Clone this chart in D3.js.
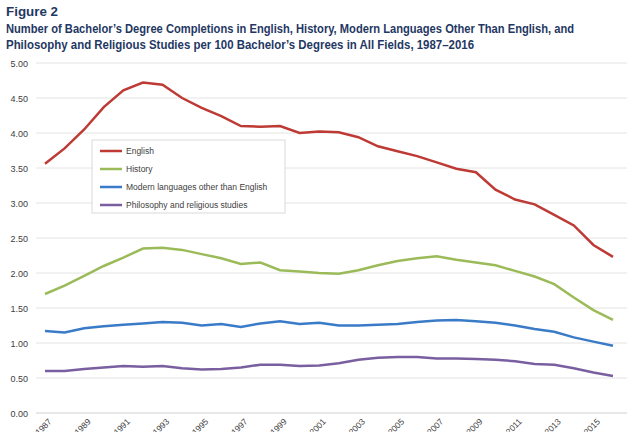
<!DOCTYPE html>
<html><head><meta charset="utf-8">
<script src="https://cdn.jsdelivr.net/npm/d3@7"></script>
<style>body{margin:0;background:#fff}</style></head>
<body><svg id="c" width="640" height="432"></svg>
<script>
const years=d3.range(1987,2017);
const english=[3.56,3.78,4.05,4.37,4.61,4.72,4.69,4.50,4.36,4.24,4.10,4.09,4.10,4.00,4.02,4.01,3.94,3.81,3.74,3.67,3.58,3.49,3.44,3.19,3.05,2.98,2.83,2.68,2.40,2.23];
const history=[1.70,1.82,1.96,2.10,2.22,2.35,2.36,2.33,2.27,2.21,2.13,2.15,2.04,2.02,2.00,1.99,2.04,2.11,2.17,2.21,2.24,2.19,2.15,2.11,2.03,1.95,1.84,1.65,1.47,1.33];
const modern=[1.17,1.15,1.21,1.24,1.26,1.28,1.30,1.29,1.25,1.27,1.23,1.28,1.31,1.27,1.29,1.25,1.25,1.26,1.27,1.30,1.32,1.33,1.31,1.29,1.25,1.20,1.16,1.08,1.02,0.96];
const philosophy=[0.60,0.60,0.63,0.65,0.67,0.66,0.67,0.64,0.62,0.63,0.65,0.69,0.69,0.67,0.68,0.71,0.76,0.79,0.80,0.80,0.78,0.78,0.77,0.76,0.74,0.70,0.69,0.64,0.58,0.53];
const seriesNames=["English","History","Modern  languages other than English","Philosophy and religious studies"];
const colors=["#be3a34","#9bbb59","#3a7bc8","#7a5fa0"];
const yTicks=d3.range(0,5.01,0.5);
const data=[english,history,modern,philosophy];

const svg=d3.select("#c");
const navy="#1f3864";
function title(t,yy,size,len){
 const e=svg.append("text").attr("x",6).attr("y",yy).attr("font-family","Liberation Sans, Arial, sans-serif")
  .attr("font-weight","bold").attr("font-size",size).attr("fill",navy).text(t);
 if(len) e.attr("textLength",len).attr("lengthAdjust","spacingAndGlyphs");
}
title("Figure 2",16,13,52);
title("Number of Bachelor’s Degree Completions in English, History, Modern Languages Other Than English, and",33,13,568);
title("Philosophy and Religious Studies per 100 Bachelor’s Degrees in All Fields, 1987–2016",49,13,468);

const x=d3.scalePoint().domain(years).range([45,613]);
const y=d3.scaleLinear().domain([0,5]).range([413,63]);
const g=svg.append("g").attr("font-family","Liberation Sans, Arial, sans-serif");
g.selectAll("line.grid").data(yTicks).join("line").attr("x1",36).attr("x2",627)
 .attr("y1",d=>y(d)).attr("y2",d=>y(d)).attr("stroke",(d)=>d===0?"#d0d0d0":"#e4e4e4").attr("stroke-width",1);
g.selectAll("text.yt").data(yTicks).join("text").attr("x",28).attr("y",d=>y(d)+3.5)
 .attr("text-anchor","end").attr("font-size",9).attr("fill","#404040").text(d=>d.toFixed(2));
g.selectAll("text.xt").data(years.filter(v=>v%2===1)).join("text")
 .attr("transform",d=>`translate(${x(d)+3},${418}) rotate(-45)`)
 .attr("text-anchor","end").attr("dy","0.7em").attr("font-size",8.5).attr("fill","#404040").text(d=>d);
const line=d3.line().x((d,i)=>x(years[i])).y(d=>y(d));
data.forEach((s,k)=>g.append("path").datum(s).attr("d",line).attr("fill","none").attr("stroke",colors[k]).attr("stroke-width",2.5));
const lg=g.append("g");
lg.append("rect").attr("x",92).attr("y",140).attr("width",193).attr("height",73).attr("fill","#fff").attr("stroke","#d9d9d9");
seriesNames.forEach((n,k)=>{
 const yy=151+k*18;
 lg.append("line").attr("x1",100).attr("x2",122).attr("y1",yy).attr("y2",yy).attr("stroke",colors[k]).attr("stroke-width",2.5);
 lg.append("text").attr("x",126).attr("y",yy+3).attr("font-size",8.5).attr("fill","#404040").text(n);
});
</script></body></html>
